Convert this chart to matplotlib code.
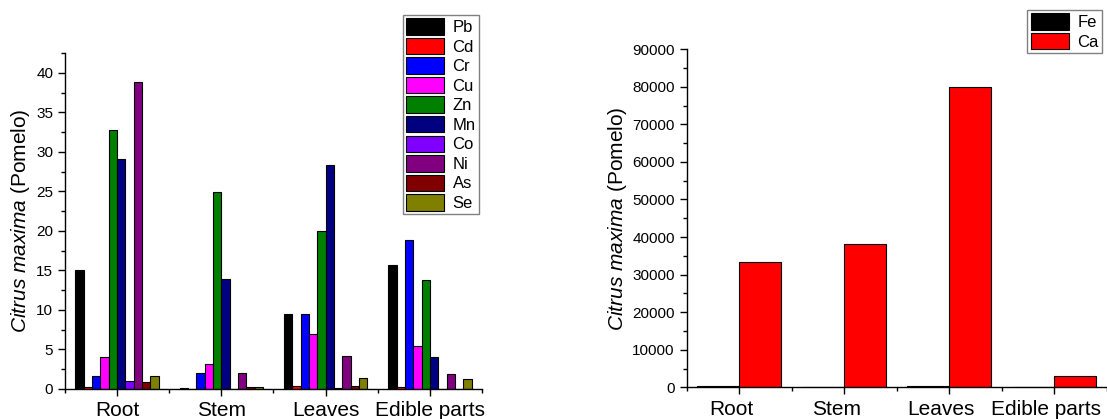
import numpy as np
import matplotlib
matplotlib.use("Agg")
import matplotlib.pyplot as plt
import matplotlib.transforms as mtransforms
from matplotlib.ticker import MultipleLocator

plt.rcParams['font.family'] = ['Liberation Sans', 'DejaVu Sans']
plt.rcParams['mathtext.fontset'] = 'custom'
plt.rcParams['mathtext.rm'] = 'Liberation Sans'
plt.rcParams['mathtext.it'] = 'Liberation Sans:italic'

# plant parts and element concentrations
parts = ["Root", "Stem", "Leaves", "Edible parts"]

trace_elements = ["Pb", "Cd", "Cr", "Cu", "Zn", "Mn", "Co", "Ni", "As", "Se"]
trace_colors = ["#000000", "#FF0000", "#0000FF", "#FF00FF", "#008000",
                "#000080", "#8000FF", "#800080", "#800000", "#808000"]
Pb = [15.0, 0.12, 9.5, 15.65]
Cd = [0.3, 0.05, 0.4, 0.2]
Cr = [1.7, 2.05, 9.5, 18.8]
Cu = [4.1, 3.2, 7.0, 5.4]
Zn = [32.8, 24.95, 20.0, 13.8]
Mn = [29.1, 13.95, 28.3, 4.1]
Co = [1.05, 0.05, 0.15, 0.0]
Ni = [38.8, 2.05, 4.2, 1.9]
As = [0.85, 0.25, 0.4, 0.0]
Se = [1.65, 0.3, 1.4, 1.27]
trace_values = [Pb, Cd, Cr, Cu, Zn, Mn, Co, Ni, As, Se]

major_elements = ["Fe", "Ca"]
major_colors = ["#000000", "#FF0000"]
Fe = [400, 150, 250, 50]
Ca = [33400, 38100, 80000, 2900]
major_values = [Fe, Ca]

fig = plt.figure(figsize=(11.07, 4.19), dpi=100)
ax1 = fig.add_axes([0.0587, 0.0716, 0.3767, 0.8019])
ax2 = fig.add_axes([0.6203, 0.0757, 0.3797, 0.8067])

x = np.arange(len(parts))


def grouped_bars(ax, values, labels, colors, group_width=0.8):
    n = len(values)
    w = group_width / n
    for i, (vals, lab, col) in enumerate(zip(values, labels, colors)):
        offs = -group_width / 2 + w * (i + 0.5)
        ax.bar(x + offs, vals, width=w, color=col, edgecolor="black",
               linewidth=0.8, label=lab)


def style_axis(ax, ymax, ymajor, yminor):
    ax.set_xlim(-0.5, 3.5)
    ax.set_ylim(0, ymax)
    ax.spines["top"].set_visible(False)
    ax.spines["right"].set_visible(False)
    ax.spines["left"].set_linewidth(1.0)
    ax.spines["bottom"].set_linewidth(1.0)
    ax.set_xticks(x)
    ax.set_xticklabels(parts, fontsize=15)
    ax.xaxis.set_minor_locator(MultipleLocator(0.5))
    ax.yaxis.set_major_locator(MultipleLocator(ymajor))
    ax.yaxis.set_minor_locator(MultipleLocator(yminor))
    ax.tick_params(axis="both", which="major", direction="out", length=5, width=1)
    ax.tick_params(axis="both", which="minor", direction="out", length=3, width=1)
    ax.tick_params(axis="y", labelsize=11)
    ax.tick_params(axis="x", pad=4)
    ax.set_ylabel(r"$\it{Citrus\ maxima}$ (Pomelo)", fontsize=15)


grouped_bars(ax1, trace_values, trace_elements, trace_colors)
style_axis(ax1, 42.5, 5, 2.5)
ax1.yaxis.set_label_coords(-0.08, 0.5)

grouped_bars(ax2, major_values, major_elements, major_colors)
style_axis(ax2, 90000, 10000, 5000)
ax2.yaxis.set_label_coords(-0.137, 0.5)

# nudge the right-hand category labels a little to the left
shift = mtransforms.ScaledTranslation(-8 / 100, 0, fig.dpi_scale_trans)
for lbl in ax2.get_xticklabels():
    lbl.set_transform(lbl.get_transform() + shift)

leg_kw = dict(fontsize=12, fancybox=False, framealpha=1, edgecolor="#808080",
              handlelength=2.3, handleheight=1.14, handletextpad=0.5,
              labelspacing=0.16, borderpad=0.2, borderaxespad=0)
leg1 = fig.legend(handles=ax1.get_legend_handles_labels()[0], labels=trace_elements,
                  loc="upper right", bbox_to_anchor=(0.4327, 0.9642), **leg_kw)
leg2 = fig.legend(handles=ax2.get_legend_handles_labels()[0], labels=major_elements,
                  loc="upper right", bbox_to_anchor=(0.9955, 0.976), **leg_kw)
for leg in (leg1, leg2):
    leg.get_frame().set_linewidth(1.0)

fig.savefig("out.png", dpi=100)
